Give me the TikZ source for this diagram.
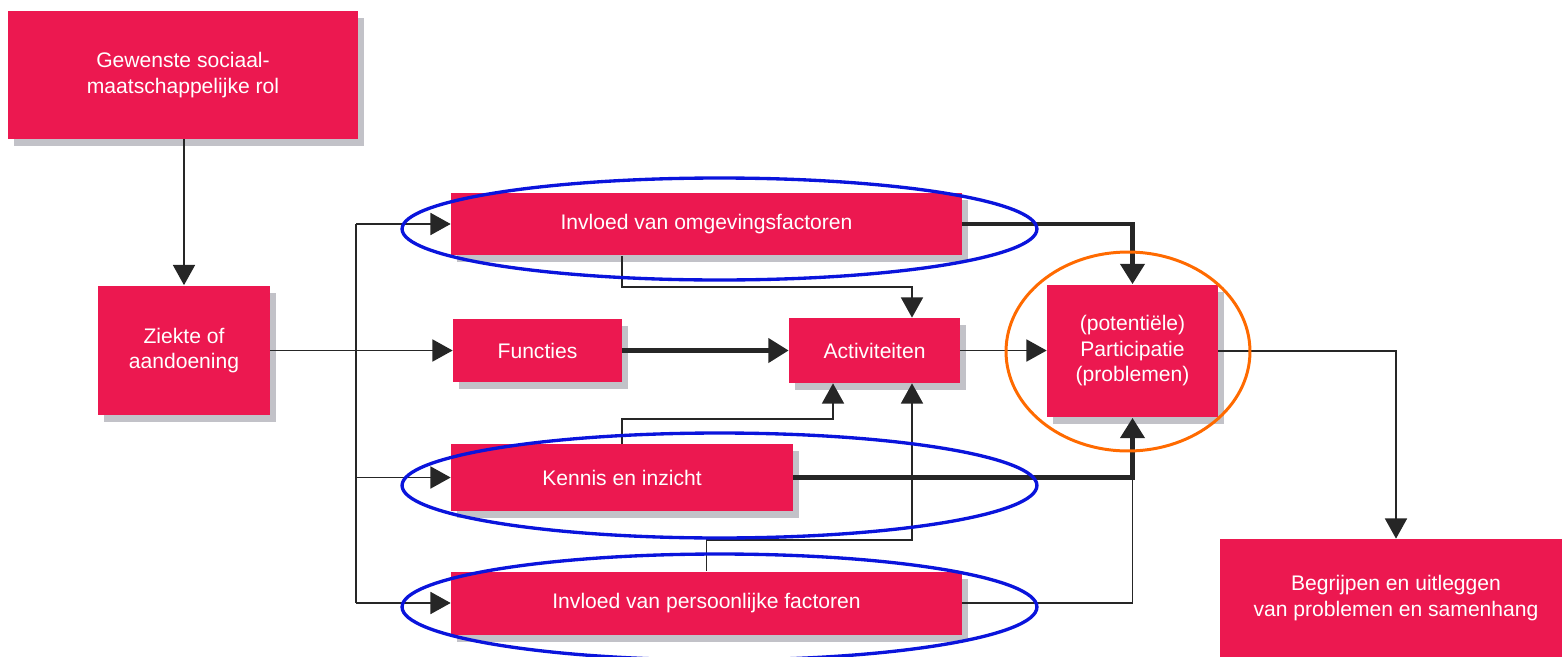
\documentclass[tikz,border=0pt]{standalone}
\usepackage{fontspec}
\setmainfont{Liberation Sans}
\usetikzlibrary{shapes,arrows.meta,shadows}

\definecolor{boxred}{HTML}{EC1850}
\definecolor{ringblue}{HTML}{0A14DC}
\definecolor{ringorange}{HTML}{FF6A00}
\definecolor{shadowgrey}{HTML}{C2C2C8}

\tikzset{
	box/.style={fill=boxred, text=white, align=center, inner sep=0pt,
		font=\fontsize{12}{14.5}\selectfont,
		drop shadow={shadow xshift=0.12cm, shadow yshift=-0.14cm, fill=shadowgrey, opacity=1}},
	plainlink/.style={line width=1pt, draw=black!85},
	link/.style={plainlink, -{Triangle[length=11.5pt, width=12.5pt]}},
	heavyline/.style={line width=2.6pt, draw=black!85},
	heavylink/.style={heavyline, -{Triangle[length=11.5pt, width=13.5pt]}},
	ring/.style={line width=1.9pt}
}

\begin{document}
\begin{tikzpicture}[x=0.02cm, y=-0.02cm]
			\useasboundingbox (0,0) rectangle (1562,656);
			\coordinate (bus) at (356,350.5);

			% boxes
			\node[box, minimum width=7cm, minimum height=2.56cm] (rol) at (183,75) {Gewenste sociaal-\\maatschappelijke rol};
			\node[box, minimum width=3.44cm, minimum height=2.6cm] (ziekte) at (184,350.5) {Ziekte of\\aandoening};
			\node[box, minimum width=10.22cm, minimum height=1.26cm] (omgeving) at (706.5,224) {Invloed van omgevingsfactoren};
			\node[box, minimum width=3.38cm, minimum height=1.26cm] (functies) at (537.5,350.5) {Functies};
			\node[box, minimum width=3.42cm, minimum height=1.3cm] (activiteiten) at (874.5,350.5) {Activiteiten};
			\node[box, minimum width=3.42cm, minimum height=2.66cm] (participatie) at (1132.5,351) {(potentiële)\\Participatie\\(problemen)};
			\node[box, minimum width=6.84cm, minimum height=1.34cm] (kennis) at (622,477.5) {Kennis en inzicht};
			\node[box, minimum width=10.22cm, minimum height=1.26cm] (persoon) at (706.5,603) {Invloed van persoonlijke factoren};
			\node[box, minimum width=7.04cm, minimum height=2.36cm] (begrijpen) at (1396,598) {Begrijpen en uitleggen\\van problemen en samenhang};

			% links
			\draw[link] (rol.south -| ziekte.north) -- (ziekte.north);
			\draw[link] (ziekte.east) -- (functies.west);
			\draw[plainlink] (bus |- omgeving.west) -- (bus |- persoon.west);
			\draw[link] (bus |- omgeving.west) -- (omgeving.west);
			\draw[link] (bus |- kennis.west) -- (kennis.west);
			\draw[link] (bus |- persoon.west) -- (persoon.west);
			\draw[heavylink] (functies.east) -- (activiteiten.west);
			\draw[link] (activiteiten.east) -- (activiteiten.east -| participatie.west);
			\draw[link] (kennis.north |- omgeving.south) -- ++(0,31) -| ([xshift=0.75cm]activiteiten.north);
			\draw[link] (kennis.north) -- ++(0,-25) -| ([xshift=-0.83cm]activiteiten.south);
			\draw[link] (persoon.north) -- ++(0,-31) -| ([xshift=0.75cm]activiteiten.south);
			\draw[heavylink] (omgeving.east) -| (participatie.north);
			\draw[plainlink] (persoon.east) -| (participatie.south |- kennis.east);
			\draw[heavylink] (kennis.east) -| (participatie.south);
			\draw[link] (participatie.east) -| (begrijpen.north);

			% rings
			\draw[ring, ringblue] (719.5,229) ellipse [x radius=6.35cm, y radius=1.02cm];
			\draw[ring, ringblue] (719.5,485.5) ellipse [x radius=6.35cm, y radius=1.05cm];
			\draw[ring, ringblue] (719.5,607) ellipse [x radius=6.35cm, y radius=1.06cm];
			\draw[ring, ringorange, line width=1.7pt] (1128,351.5) ellipse [x radius=2.44cm, y radius=1.99cm];
\end{tikzpicture}
\end{document}
